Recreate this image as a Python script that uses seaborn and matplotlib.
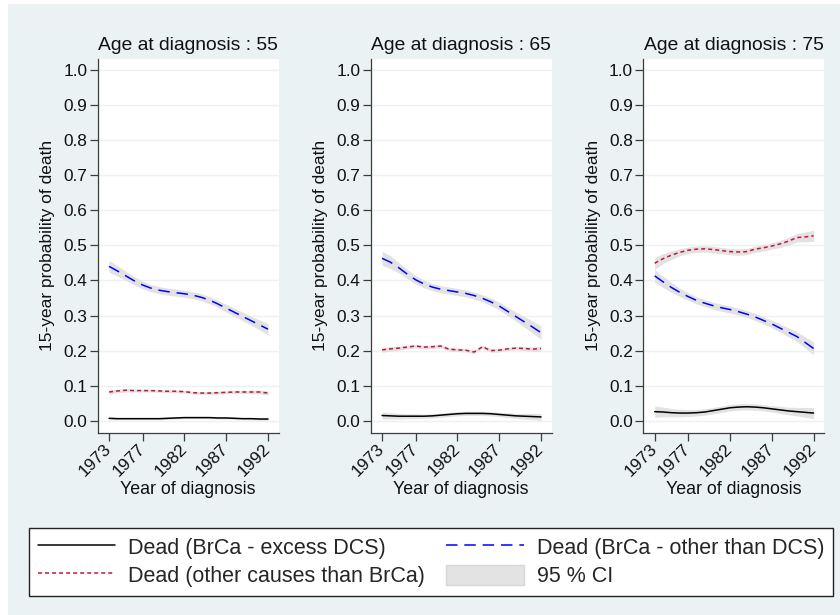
import matplotlib
matplotlib.use("Agg")
import numpy as np
import pandas as pd
import seaborn as sns
import matplotlib.pyplot as plt
from matplotlib.patches import Rectangle, Patch
from matplotlib.lines import Line2D

# ---------------- data ----------------
years = [1973, 1974, 1975, 1976, 1977, 1978, 1979, 1980, 1981, 1982,
         1983, 1984, 1985, 1986, 1987, 1988, 1989, 1990, 1991, 1992]
xtick_years = [1973, 1977, 1982, 1987, 1992]
ytick_values = [0.0, 0.1, 0.2, 0.3, 0.4, 0.5, 0.6, 0.7, 0.8, 0.9, 1.0]
ages = [55, 65, 75]

series_names = ["Dead (BrCa - excess DCS)",
                "Dead (other causes than BrCa)",
                "Dead (BrCa - other than DCS)"]

# Age 55
excess_55 = [.007, .006, .006, .006, .006, .006, .006, .007, .008, .009,
             .009, .009, .009, .008, .008, .007, .006, .006, .005, .005]
other_55 = [.082, .085, .087, .086, .086, .086, .085, .084, .084, .083,
            .080, .079, .079, .080, .081, .082, .082, .082, .082, .079]
brca_55 = [.440, .427, .413, .399, .387, .378, .372, .368, .365, .362,
           .358, .352, .344, .333, .321, .309, .297, .285, .273, .261]
ci_excess_55 = [.004, .003, .003, .003, .003, .003, .003, .003, .003, .003,
                .003, .003, .003, .003, .003, .003, .003, .003, .003, .004]
ci_other_55 = [.006, .005, .005, .004, .004, .004, .004, .004, .004, .004,
               .004, .004, .004, .004, .004, .004, .004, .005, .005, .006]
ci_brca_55 = [.017, .015, .013, .012, .011, .010, .010, .010, .010, .010,
              .010, .010, .010, .010, .011, .011, .012, .013, .014, .016]

# Age 65
excess_65 = [.015, .014, .013, .013, .013, .013, .014, .016, .018, .020,
             .021, .021, .021, .020, .018, .016, .014, .013, .012, .011]
other_65 = [.202, .205, .207, .210, .213, .210, .211, .213, .204, .202,
            .201, .196, .211, .200, .201, .205, .207, .206, .204, .206]
brca_65 = [.463, .452, .436, .418, .402, .390, .381, .375, .371, .367,
           .363, .357, .349, .339, .327, .312, .297, .282, .267, .251]
ci_excess_65 = [.010, .009, .008, .007, .007, .006, .006, .006, .006, .006,
                .006, .006, .006, .006, .006, .007, .007, .008, .009, .010]
ci_other_65 = [.007, .006, .006, .005, .005, .005, .005, .005, .005, .005,
               .005, .005, .005, .005, .005, .005, .005, .006, .006, .007]
ci_brca_65 = [.020, .018, .015, .013, .012, .011, .010, .010, .010, .010,
              .010, .010, .010, .011, .011, .012, .013, .015, .017, .019]

# Age 75
excess_75 = [.026, .025, .023, .022, .022, .023, .025, .029, .033, .037,
             .039, .040, .039, .037, .034, .031, .028, .026, .024, .022]
other_75 = [.449, .462, .472, .480, .486, .489, .490, .488, .485, .482,
            .481, .482, .489, .493, .498, .504, .512, .522, .524, .527]
brca_75 = [.413, .396, .380, .366, .354, .343, .335, .328, .322, .317,
           .311, .304, .296, .286, .276, .264, .252, .240, .223, .206]
ci_excess_75 = [.016, .014, .012, .011, .010, .009, .009, .009, .009, .009,
                .009, .009, .009, .009, .009, .010, .011, .012, .014, .016]
ci_other_75 = [.017, .014, .012, .010, .009, .009, .009, .009, .009, .009,
               .009, .009, .009, .009, .009, .010, .011, .012, .014, .016]
ci_brca_75 = [.018, .016, .014, .012, .011, .010, .010, .010, .010, .010,
              .010, .010, .010, .010, .011, .012, .013, .014, .016, .018]

panel_values = {55: (excess_55, other_55, brca_55),
                65: (excess_65, other_65, brca_65),
                75: (excess_75, other_75, brca_75)}
panel_ci = {55: (ci_excess_55, ci_other_55, ci_brca_55),
            65: (ci_excess_65, ci_other_65, ci_brca_65),
            75: (ci_excess_75, ci_other_75, ci_brca_75)}

# ---------------- style ----------------
BG = "#EAF2F3"
CI_COLOR = "#E2E2E2"
SPINE = "#3C3C3C"
palette = {series_names[0]: "#000000",
           series_names[1]: "#C8143C",
           series_names[2]: "#0000FF"}
dashes = {series_names[0]: "",
          series_names[1]: (2.6, 2.0),
          series_names[2]: (7.5, 4.5)}
LW = 1.1

sns.set_theme(style="white")
plt.rcParams["font.family"] = ["Liberation Sans", "DejaVu Sans"]

W, H = 840, 615
fig = plt.figure(figsize=(W / 100, H / 100), dpi=100, facecolor="white")
fig.patches.append(Rectangle((8 / W, 0), 1 - 8 / W, (H - 4) / H,
                             transform=fig.transFigure, facecolor=BG,
                             edgecolor="none", zorder=-10))

lefts = [97.7, 370.7, 643.3]
ax_w, ax_top, ax_bot = 181.0, 59.0, 432.7

for i, age in enumerate(ages):
    ax = fig.add_axes([lefts[i] / W, (H - ax_bot) / H, ax_w / W, (ax_bot - ax_top) / H])
    ax.set_facecolor("white")
    vals = panel_values[age]
    cis = panel_ci[age]
    rows = []
    for name, v in zip(series_names, vals):
        for y, p in zip(years, v):
            rows.append({"year": y, "value": p, "series": name})
    df = pd.DataFrame(rows)

    for v, c in zip(vals, cis):
        v = np.asarray(v)
        c = np.asarray(c)
        ax.fill_between(years, v - c, v + c, color=CI_COLOR, lw=0, zorder=1)

    sns.lineplot(data=df, x="year", y="value", hue="series", style="series",
                 palette=palette, dashes=dashes, hue_order=series_names,
                 style_order=series_names, legend=False, ax=ax,
                 linewidth=LW, zorder=3)

    ax.set_xlim(1971.64, 1993.28)
    ax.set_ylim(-0.034, 1.031)
    ax.set_yticks(ytick_values)
    ax.set_yticklabels([f"{t:.1f}" for t in ytick_values])
    ax.set_xticks(xtick_years)
    ax.set_xticklabels([str(y) for y in xtick_years], rotation=45,
                       ha="right", va="center", rotation_mode="anchor")
    ax.grid(axis="y", color=BG, linewidth=1.0, zorder=0)
    ax.grid(axis="x", visible=False)
    ax.set_axisbelow(True)
    for s in ["top", "right"]:
        ax.spines[s].set_visible(False)
    for s in ["left", "bottom"]:
        ax.spines[s].set_color(SPINE)
        ax.spines[s].set_linewidth(0.9)
    ax.tick_params(axis="both", direction="out", length=5.5, width=0.9,
                   color=SPINE, left=True, bottom=True, labelcolor="#111111")
    ax.tick_params(axis="y", labelsize=12.4, pad=2)
    ax.tick_params(axis="x", labelsize=12.4, pad=4.5)
    ax.set_title(f"Age at diagnosis : {age}", fontsize=13.9, pad=6.5, color="#111111")
    ax.set_ylabel("15-year probability of death", fontsize=12.5, color="#111111")
    ax.yaxis.set_label_coords(-42.7 / ax_w, 0.5)
    ax.set_xlabel("Year of diagnosis", fontsize=12.8, color="#111111")
    ax.xaxis.set_label_coords(0.5, -(481 - ax_bot) / (ax_bot - ax_top))

handles = [Line2D([], [], color=palette[series_names[0]], lw=LW),
           Line2D([], [], color=palette[series_names[1]], lw=LW, dashes=dashes[series_names[1]]),
           Line2D([], [], color=palette[series_names[2]], lw=LW, dashes=dashes[series_names[2]]),
           Patch(facecolor="#E3E3E3", edgecolor="#D6D6D6")]
labels = [series_names[0], series_names[1], series_names[2], "95 % CI"]

leg = fig.legend(handles, labels, ncol=2, loc="upper left",
                 bbox_to_anchor=(29 / W, (H - 598) / H, 804 / W, 70 / H),
                 mode="expand", fontsize=15.5, frameon=True, fancybox=False,
                 handlelength=3.6, handleheight=1.1, handletextpad=0.6,
                 labelspacing=0.25, borderpad=0.4, borderaxespad=0)
leg.get_frame().set_edgecolor("#222222")
leg.get_frame().set_linewidth(1.0)
leg.get_frame().set_facecolor("white")
leg.get_frame().set_alpha(1)

fig.savefig("out.png", dpi=100, facecolor="white")
